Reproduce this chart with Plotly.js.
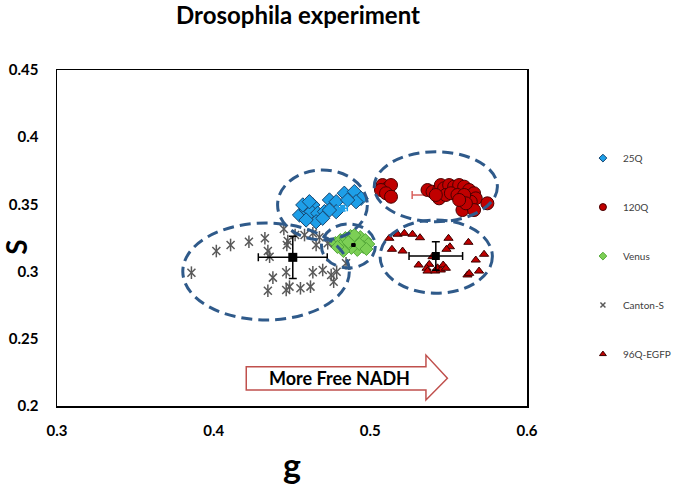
<!DOCTYPE html>
<html>
<head>
<meta charset="utf-8">
<script src="https://cdn.plot.ly/plotly-3.0.1.min.js"></script>
<style>html,body{margin:0;padding:0;background:#fff;}#chart{width:675px;height:499px;}</style>
</head>
<body>
<div id="chart"></div>
<script>
// ---- data (g, S) ----
var g25Q = [0.4548,0.4590,0.4633,0.4622,0.4664,0.4654,0.4707,0.4739,0.4782,0.4782,0.4834,0.4898,0.4941,0.4909,0.4855,0.4590,0.4696,0.4739,0.4569,0.4611];
var s25Q = [0.3421,0.3458,0.3496,0.3446,0.3434,0.3371,0.3446,0.3533,0.3520,0.3446,0.3583,0.3595,0.3545,0.3520,0.3533,0.3384,0.3397,0.3458,0.3496,0.3520];

var g120Q = [0.5078,0.5110,0.5132,0.5068,0.5100,0.5132,0.5365,0.5397,0.5439,0.5450,0.5471,0.5503,0.5535,0.5567,0.5599,0.5631,0.5662,0.5673,0.5641,0.5588,0.5662,0.5747,0.5439,0.5482,0.5514,0.5556,0.5599,0.5610,0.5418,0.5567];
var s120Q = [0.3644,0.3620,0.3644,0.3607,0.3583,0.3557,0.3607,0.3594,0.3607,0.3644,0.3620,0.3644,0.3632,0.3644,0.3632,0.3607,0.3583,0.3545,0.3520,0.3458,0.3458,0.3508,0.3545,0.3570,0.3583,0.3570,0.3570,0.3508,0.3570,0.3533];

var gVenus = [0.4777,0.4809,0.4841,0.4873,0.4904,0.4936,0.4968,0.4987,0.4955,0.4917,0.4879,0.4841,0.4809,0.4860,0.4930,0.4828,0.4975,0.4898,0.4790];
var sVenus = [0.3213,0.3235,0.3250,0.3265,0.3235,0.3257,0.3235,0.3205,0.3183,0.3161,0.3176,0.3183,0.3190,0.3220,0.3205,0.3153,0.3168,0.3272,0.3183];

var gCanton = [0.3858,0.4017,0.4108,0.4225,0.4327,0.4346,0.4357,0.4467,0.4473,0.4520,0.4580,0.4448,0.4633,0.4654,0.4728,0.4463,0.4378,0.4346,0.4463,0.4484,0.4554,0.4618,0.4633,0.4696,0.4750,0.4766,0.4785,0.4845,0.4675];
var sCanton = [0.2992,0.3153,0.3198,0.3222,0.3248,0.3153,0.3111,0.3198,0.3228,0.3272,0.3272,0.3317,0.3285,0.3198,0.3211,0.2995,0.2955,0.2858,0.2863,0.2888,0.2876,0.2888,0.2995,0.3012,0.2975,0.2925,0.2999,0.3062,0.3255];

var g96Q = [0.5121,0.5174,0.5217,0.5269,0.5317,0.5138,0.5206,0.5499,0.5508,0.5486,0.5626,0.5673,0.5726,0.5308,0.5376,0.5397,0.5359,0.5365,0.5414,0.5429,0.5450,0.5465,0.5482,0.5620,0.5631,0.5694];
var s96Q = [0.3248,0.3278,0.3285,0.3278,0.3252,0.3166,0.3153,0.3248,0.3185,0.3166,0.3218,0.3086,0.3129,0.3049,0.3054,0.3111,0.3025,0.3004,0.3004,0.3028,0.3012,0.3049,0.3025,0.2975,0.2987,0.3004];

// group means and error bars: 25Q, 120Q, Venus, Canton-S, 96Q-EGFP
var meanNames = ['25Q','120Q','Venus','Canton-S','96Q-EGFP'];
var meanG = [0.4823,0.5471,0.4892,0.4505,0.5418];
var meanS = [0.3471,0.3570,0.3198,0.3106,0.3116];
var errG  = [0.0030,0.0204,0.0015,0.0220,0.0171];
var errS  = [0.0020,0.0040,0.0010,0.0157,0.0106];

// dashed cluster ellipses (bounding extents in g / S)
var ellG0 = [0.3803,0.4408,0.4688,0.5025,0.5062];
var ellG1 = [0.4866,0.4981,0.5032,0.5811,0.5779];
var ellS0 = [0.2640,0.3235,0.3027,0.3371,0.2839];
var ellS1 = [0.3362,0.3756,0.3354,0.3892,0.3384];

var FONT = 'Lato, "Open Sans", sans-serif';

function meanTrace(i, color, size, barColor, cap) {
  return {
    x: [meanG[i]], y: [meanS[i]], type: 'scatter', mode: 'markers',
    name: meanNames[i] + ' mean', showlegend: false, hoverinfo: 'skip',
    marker: {symbol: 'square', size: size, color: color},
    error_x: {type: 'constant', value: errG[i], color: barColor, thickness: 1.5, width: cap},
    error_y: {type: 'constant', value: errS[i], color: barColor, thickness: 1.5, width: cap}
  };
}

var st25Q = {symbol: 'diamond', color: '#1e9fe8', line: {color: '#17456f', width: 1}};
var st120Q = {symbol: 'circle', color: '#c00000', line: {color: '#4a0000', width: 1}};
var stVenus = {symbol: 'diamond', color: '#7ccf55', line: {color: '#55a83a', width: 1}};
var stCanton = {symbol: 'x-thin-open', color: '#595959', line: {color: '#595959', width: 1.5}};
var st96Q = {symbol: 'triangle-up', color: '#c00000', line: {color: '#3a0000', width: 1}};

function withSize(st, size) {
  var m = JSON.parse(JSON.stringify(st)); m.size = size; return m;
}

var traces = [
  meanTrace(1, '#d9625e', 6, '#d9625e', 4),
  {x: g25Q, y: s25Q, type: 'scatter', mode: 'markers', name: '25Q', showlegend: false, legendgroup: '25Q', marker: withSize(st25Q, 11)},
  {x: g120Q, y: s120Q, type: 'scatter', mode: 'markers', name: '120Q', showlegend: false, legendgroup: '120Q', marker: withSize(st120Q, 13)},
  {x: gVenus, y: sVenus, type: 'scatter', mode: 'markers', name: 'Venus', showlegend: false, legendgroup: 'Venus', marker: withSize(stVenus, 10)},
  {x: gCanton, y: sCanton, type: 'scatter', mode: 'markers', name: 'Canton-S', showlegend: false, legendgroup: 'canton', marker: withSize(stCanton, 8)},
  {x: gCanton, y: sCanton, type: 'scatter', mode: 'markers', name: 'Canton-S', showlegend: false, legendgroup: 'canton', hoverinfo: 'skip',
   marker: {symbol: 'line-ns-open', size: 9, color: '#595959', line: {color: '#595959', width: 1.5}}},
  {x: g96Q, y: s96Q, type: 'scatter', mode: 'markers', name: '96Q-EGFP', showlegend: false, legendgroup: '96Q', marker: withSize(st96Q, 8)},
  meanTrace(0, '#1e9fe8', 5, '#1e9fe8', 3),
  meanTrace(2, '#000000', 4, '#000000', 0),
  meanTrace(3, '#000000', 9, '#000000', 4),
  meanTrace(4, '#000000', 8, '#000000', 4),
  // legend entries (same series, small legend symbols)
  {x: [null], y: [null], type: 'scatter', mode: 'markers', name: '25Q', legendgroup: '25Q', legendrank: 1, marker: withSize(st25Q, 6)},
  {x: [null], y: [null], type: 'scatter', mode: 'markers', name: '120Q', legendgroup: '120Q', legendrank: 2, marker: withSize(st120Q, 7)},
  {x: [null], y: [null], type: 'scatter', mode: 'markers', name: 'Venus', legendgroup: 'Venus', legendrank: 3, marker: withSize(stVenus, 6)},
  {x: [null], y: [null], type: 'scatter', mode: 'markers', name: 'Canton-S', legendgroup: 'canton', legendrank: 4, marker: withSize(stCanton, 5)},
  {x: [null], y: [null], type: 'scatter', mode: 'markers', name: '96Q-EGFP', legendgroup: '96Q', legendrank: 5, marker: withSize(st96Q, 6)}
];

var shapes = [];
for (var i = 0; i < ellG0.length; i++) {
  shapes.push({type: 'circle', xref: 'x', yref: 'y', x0: ellG0[i], x1: ellG1[i], y0: ellS0[i], y1: ellS1[i],
    line: {color: '#2f5a8a', width: 3, dash: '11px,6px'}, layer: 'above'});
}
// "More Free NADH" arrow
shapes.push({type: 'path', xref: 'x', yref: 'y', layer: 'above',
  path: 'M 0.4208 0.2119 L 0.5355 0.2119 L 0.5355 0.2045 L 0.5492 0.2206 L 0.5355 0.2379 L 0.5355 0.2292 L 0.4208 0.2292 Z',
  fillcolor: '#ffffff', line: {color: '#c0504d', width: 1.5}});

var layout = {
  width: 675, height: 499,
  margin: {l: 57, r: 148, t: 70, b: 93, autoexpand: false},
  paper_bgcolor: '#ffffff', plot_bgcolor: '#ffffff',
  font: {family: FONT, color: '#000'},
  title: {text: '<b>Drosophila experiment</b>', font: {family: FONT, size: 24, color: '#000'},
          x: 0.4415, xanchor: 'center', xref: 'container', y: 0.968, yanchor: 'middle'},
  xaxis: {range: [0.3, 0.6], dtick: 0.1, tick0: 0.3, showgrid: false, zeroline: false,
          showline: true, linecolor: '#000', linewidth: 1.5, mirror: true,
          ticks: '', ticklabelstandoff: 10,
          tickfont: {family: FONT, size: 15, color: '#000', weight: 'bold'},
          title: {text: '<b>g</b>', font: {family: FONT, size: 34, color: '#000'}, standoff: 16}},
  yaxis: {range: [0.2, 0.45], dtick: 0.05, tick0: 0.2, showgrid: false, zeroline: false,
          showline: true, linecolor: '#000', linewidth: 1.5, mirror: true,
          ticks: '', ticklabelstandoff: 14,
          tickfont: {family: FONT, size: 15, color: '#000', weight: 'bold'}},
  showlegend: true,
  legend: {x: 1.119, xanchor: 'left', y: 0.781, yanchor: 'top', tracegroupgap: 30,
           itemsizing: 'trace', font: {family: FONT, size: 10, color: '#404040'},
           bgcolor: 'rgba(0,0,0,0)'},
  shapes: shapes,
  annotations: [
    {text: '<b>S</b>', xref: 'paper', yref: 'paper', x: -0.088, y: 0.473, textangle: -90,
     showarrow: false, xanchor: 'center', yanchor: 'middle', font: {family: FONT, size: 28, color: '#000'}},
    {text: '<b>More Free NADH</b>', xref: 'x', yref: 'y', x: 0.4803, y: 0.2206, showarrow: false,
     xanchor: 'center', yanchor: 'middle', font: {family: FONT, size: 18, color: '#000'}}
  ]
};

Plotly.newPlot('chart', traces, layout, {displayModeBar: false, staticPlot: true});
</script>
</body>
</html>
